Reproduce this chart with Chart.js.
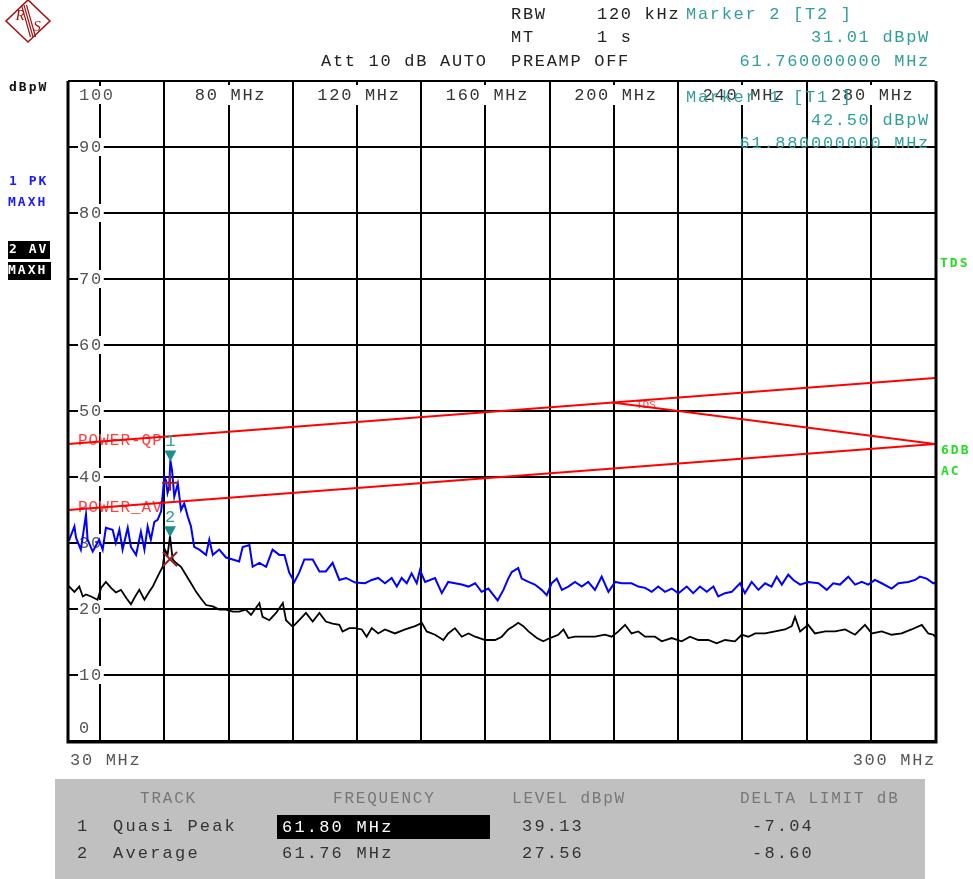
<!DOCTYPE html>
<html>
<head>
<meta charset="utf-8">
<script src="https://cdn.jsdelivr.net/npm/chart.js@4.4.1/dist/chart.umd.min.js"></script>
<style>
  html, body { margin: 0; padding: 0; background: #fff; }
  #wrap { width: 973px; height: 879px; }
</style>
</head>
<body>
<div id="wrap"><canvas id="chart" width="973" height="879"></canvas></div>
<script>
// trace 1: PK MAXH (MHz / dBpW)
const pkFreq = [30, 30.4, 32.0, 32.5, 34.0, 35.6, 36.1, 37.7, 39.7, 40.8, 41.8, 43.9, 44.9, 46.0, 47.0, 48.6, 49.6,
  51.2, 52.7, 53.8, 54.8, 55.8, 56.9, 57.9, 59.0, 60.0, 60.5, 61.0, 61.5, 61.88, 62.4, 63.1, 64.2, 65.2, 66.2,
  67.3, 68.3, 69.3, 70.9, 73.0, 74.0, 75.1, 77.1, 79.2, 81.3, 83.3, 84.4, 86.5, 87.5, 89.6, 91.7, 93.7, 95.8,
  97.4, 98.9, 100.5, 102.0, 103.6, 106.2, 108.3, 110.3, 112.4, 114.5, 116.6, 119.4, 122.5, 124.6, 126.6, 128.7,
  130.8, 132.4, 133.9, 135.5, 137.0, 138.6, 139.6, 141.2, 144.3, 146.4, 148.4, 150.5, 152.6, 154.7, 156.8, 158.8,
  160.9, 162.5, 163.8, 165.6, 167.1, 168.2, 169.2, 170.2, 171.3, 173.4, 175.4, 177.5, 179.1, 180.6, 182.2, 183.8,
  185.8, 187.9, 190.0, 192.0, 194.1, 196.2, 198.3, 200.4, 202.4, 205.5, 207.6, 209.7, 211.8, 213.8, 215.9, 218.0,
  220.1, 222.7, 224.7, 226.8, 228.9, 231.0, 232.5, 234.6, 236.7, 239.3, 240.8, 242.9, 245.0, 247.1, 249.1, 250.7,
  252.3, 254.3, 255.9, 258.0, 260.5, 263.7, 266.3, 268.3, 270.4, 273.0, 275.1, 277.2, 279.2, 281.3, 283.4, 286.5,
  288.6, 291.7, 293.8, 295.3, 297.4, 299.5, 300];
const pkLevel = [30.5, 30.5, 32.5, 30.8, 29.0, 34.3, 30.5, 28.7, 30.5, 29.0, 32.3, 32.0, 30.0, 32.0, 29.0, 32.3, 29.4,
  28.2, 31.7, 29.0, 32.5, 30.5, 33.2, 33.5, 34.8, 40.0, 39.5, 37.6, 38.5, 42.5, 41.0, 37.0, 39.0, 35.0, 36.0,
  34.0, 32.5, 29.4, 29.0, 28.2, 30.5, 28.2, 29.0, 27.8, 27.5, 27.2, 29.4, 29.7, 26.4, 27.0, 26.4, 29.0, 28.2,
  28.2, 25.5, 24.1, 25.5, 27.5, 27.5, 25.7, 25.7, 27.0, 24.4, 24.7, 24.0, 23.9, 24.4, 24.7, 23.9,
  24.7, 23.4, 24.7, 23.9, 25.4, 23.9, 25.9, 24.1, 24.7, 22.4, 24.1, 23.9, 23.7, 23.4, 23.9, 22.6,
  23.1, 22.1, 21.3, 22.9, 24.6, 25.6, 25.9, 26.2, 24.6, 24.1, 23.7, 22.9, 22.1, 23.9, 24.6, 22.9,
  23.4, 24.1, 23.4, 24.1, 22.9, 24.9, 22.6, 24.1, 23.9, 23.9, 23.4, 23.2, 22.6, 23.4, 22.6, 23.1,
  22.4, 23.4, 22.4, 23.4, 22.6, 23.4, 21.9, 22.4, 22.6, 23.9, 22.4, 24.1, 22.9, 23.9, 23.4, 24.9,
  23.7, 25.2, 24.4, 23.7, 24.1, 23.9, 22.9, 23.9, 23.7, 24.9, 23.7, 24.1, 23.7, 24.4, 23.9, 23.1,
  23.9, 24.1, 24.4, 24.9, 24.6, 23.9, 24.0];

// trace 2: AV MAXH
const avFreq = [30, 30.4, 32.0, 33.5, 34.6, 35.6, 37.2, 39.2, 40.3, 41.8, 43.4, 44.9, 46.5, 48.1, 49.6, 50.7, 52.2,
  53.8, 55.3, 56.4, 57.4, 58.4, 59.5, 60.2, 61.0, 61.76, 62.6, 63.6, 65.2, 66.7, 68.3, 69.9, 71.4, 73.0, 75.1,
  77.1, 79.2, 81.3, 83.3, 85.4, 87.0, 89.6, 90.6, 92.7, 94.8, 96.9, 97.9, 100.0, 102.0, 104.1, 106.2, 108.3,
  110.3, 112.4, 114.5, 115.5, 117.6, 119.4, 121.5, 123.0, 124.6, 126.6, 128.7, 131.8, 135.0, 138.1, 140.2, 141.7,
  144.3, 146.9, 148.4, 150.5, 152.6, 154.7, 156.8, 159.9, 163.0, 165.1, 167.1, 168.7, 170.2, 171.8, 173.4, 176.0,
  178.0, 180.1, 182.7, 184.3, 185.8, 187.9, 191.0, 194.1, 197.2, 199.3, 201.4, 203.5, 205.5, 207.6, 209.7, 212.8,
  214.9, 218.0, 221.1, 223.7, 226.3, 229.4, 232.0, 234.6, 237.7, 239.8, 241.9, 244.0, 247.1, 250.2, 253.3, 255.4,
  256.4, 258.0, 260.5, 262.6, 265.8, 268.9, 272.0, 275.1, 278.2, 280.3, 283.4, 286.5, 289.6, 292.7, 295.9, 297.9,
  299.5, 300];
const avLevel = [23.4, 23.4, 22.6, 23.4, 21.9, 22.2, 21.9, 21.4, 23.2, 24.1, 23.2, 22.5, 22.9, 21.7, 20.7, 21.7, 22.9,
  21.4, 22.6, 23.4, 24.4, 25.4, 26.4, 29.0, 28.2, 31.0, 27.5, 27.0, 26.4, 25.2, 23.9, 22.6, 21.6, 20.6, 20.4,
  19.9, 19.9, 19.6, 19.6, 19.9, 19.1, 20.9, 18.8, 18.3, 19.4, 20.9, 18.3, 17.3, 18.3, 19.4, 18.1, 19.4,
  18.1, 17.8, 17.6, 16.6, 17.1, 17.1, 16.9, 15.8, 17.1, 16.3, 16.9, 16.3, 16.9, 17.4, 17.9, 16.6,
  16.1, 15.3, 16.3, 17.1, 15.8, 16.3, 15.8, 15.3, 15.3, 15.8, 16.9, 17.4, 17.9, 17.4, 16.6, 15.6,
  15.1, 15.6, 16.1, 16.9, 15.6, 15.8, 15.8, 15.8, 16.1, 15.8, 16.6, 17.6, 16.3, 16.6, 15.8, 15.8,
  15.1, 15.6, 15.1, 15.8, 15.3, 15.3, 14.8, 15.3, 15.1, 16.1, 15.8, 16.3, 16.3, 16.6, 16.9, 17.4,
  18.8, 16.6, 17.6, 16.3, 16.6, 16.6, 16.9, 16.1, 17.6, 16.3, 16.6, 16.1, 16.3, 16.9, 17.6, 16.3,
  16.1, 15.8];

// limit lines
const qpLimitFreq = [30, 300];
const qpLimit = [45, 55];
const avLimitFreq = [30, 300];
const avLimit = [35, 45];
const tdsFreq = [199.5, 300];
const tdsLimit = [51.3, 45];

// markers: 1 on trace 1, 2 on trace 2
const markerFreq = [61.88, 61.76];
const markerLevel = [42.5, 31.01];
// final measurement points (table)
const qpFinal = { f: 61.80, level: 39.13 };
const avFinal = { f: 61.76, level: 27.56 };

// axes
const gridFreq = [40, 60, 80, 100, 120, 140, 160, 180, 200, 220, 240, 260, 280];
const topFreqLabels = [80, 120, 160, 200, 240, 280];
const levelTicks = [100, 90, 80, 70, 60, 50, 40, 30, 20, 10, 0];

const MONO = '"Liberation Mono", "Courier New", monospace';
const TEAL = '#2f9f9b';

function put(ctx, s, x, y, o = {}) {
  ctx.save();
  ctx.font = (o.weight || 'normal') + ' ' + (o.size || 17) + 'px ' + (o.family || MONO);
  ctx.letterSpacing = (o.spacing ?? 1.7) + 'px';
  ctx.textAlign = o.align || 'left';
  ctx.textBaseline = 'middle';
  if (o.bg) {
    const w = ctx.measureText(s).width;
    const x0 = o.align === 'center' ? x - w / 2 : o.align === 'right' ? x - w : x;
    ctx.fillStyle = o.bg;
    ctx.fillRect(x0 - (o.padX ?? 1), y - (o.h || 18) / 2, w + 2 * (o.padX ?? 1), o.h || 18);
  }
  ctx.fillStyle = o.color || '#222';
  ctx.fillText(s, x, y);
  ctx.restore();
}

function drawLogo(ctx) {
  ctx.save();
  ctx.translate(28, 21);
  ctx.strokeStyle = '#a31515';
  ctx.lineWidth = 1.6;
  ctx.beginPath();
  ctx.moveTo(0, -21); ctx.lineTo(22, 0); ctx.lineTo(0, 21); ctx.lineTo(-22, 0); ctx.closePath();
  ctx.stroke();
  ctx.lineWidth = 1.2;
  ctx.beginPath();
  for (const d of [-2.5, 0, 2.5]) { ctx.moveTo(-4 + d, -16); ctx.lineTo(5 + d, 16); }
  ctx.stroke();
  ctx.fillStyle = '#a31515';
  ctx.font = 'italic 15px "Liberation Serif", serif';
  ctx.textAlign = 'center';
  ctx.textBaseline = 'middle';
  ctx.fillText('R', -8, -5);
  ctx.fillText('S', 9, 6);
  ctx.restore();
}

const analyzerText = {
  id: 'analyzerText',
  beforeDatasetsDraw(chart) {
    const { ctx, scales: { x, y } } = chart;
    levelTicks.forEach(v => {
      let py = y.getPixelForValue(v);
      if (v === 100) py += 14;
      else if (v === 0) py -= 13;
      put(ctx, String(v), 79, py, { color: '#555', bg: '#fff' });
    });
    topFreqLabels.forEach(f => {
      put(ctx, f + ' MHz', x.getPixelForValue(f) + 2, 95, { align: 'center', color: '#333', bg: '#fff', h: 20 });
    });
    put(ctx, 'POWER-QP', 78, 441, { color: '#ff4040', size: 16, spacing: 1 });
    put(ctx, 'POWER_AV', 78, 508, { color: '#ff4040', size: 16, spacing: 1 });
    put(ctx, 'TDS', 636, 405, { color: '#ff4040', size: 11, spacing: 0 });
  },
  afterDatasetsDraw(chart) {
    const { ctx, scales: { x, y }, chartArea: a } = chart;
    // frame
    ctx.save();
    ctx.strokeStyle = '#000';
    ctx.lineWidth = 3;
    ctx.beginPath();
    ctx.moveTo(a.left, a.top); ctx.lineTo(a.left, a.bottom + 1);
    ctx.lineTo(a.right + 1, a.bottom + 1); ctx.lineTo(a.right + 1, a.top);
    ctx.stroke();
    ctx.lineWidth = 2;
    ctx.beginPath(); ctx.moveTo(a.left, a.top); ctx.lineTo(a.right, a.top); ctx.stroke();
    // marker triangles
    markerFreq.forEach((f, i) => {
      const px = x.getPixelForValue(f), py = y.getPixelForValue(markerLevel[i]);
      ctx.fillStyle = '#1f8f8b';
      ctx.beginPath();
      ctx.moveTo(px - 6, py - 10); ctx.lineTo(px + 6, py - 10); ctx.lineTo(px, py + 1); ctx.closePath();
      ctx.fill();
      put(ctx, String(i + 1), px, py - 19, { align: 'center', color: TEAL, size: 17, spacing: 0 });
    });
    ctx.restore();
  },
  afterDraw(chart) {
    const { ctx, scales: { x } } = chart;
    drawLogo(ctx);
    // header
    put(ctx, 'RBW', 511, 14);
    put(ctx, '120 kHz', 597, 14);
    put(ctx, 'MT', 511, 37);
    put(ctx, '1 s', 597, 37);
    put(ctx, 'Att 10 dB AUTO', 321, 61);
    put(ctx, 'PREAMP OFF', 511, 61);
    put(ctx, 'Marker 2 [T2 ]', 686, 14, { color: TEAL });
    put(ctx, '31.01 dBpW', 930, 37, { color: TEAL, align: 'right' });
    put(ctx, '61.760000000 MHz', 930, 61, { color: TEAL, align: 'right' });
    put(ctx, 'Marker 1 [T1 ]', 686, 97, { color: TEAL });
    put(ctx, '42.50 dBpW', 930, 120, { color: TEAL, align: 'right' });
    put(ctx, '61.880000000 MHz', 930, 143, { color: TEAL, align: 'right' });
    // left side
    const sb = { weight: 'bold', size: 13, spacing: 2, family: '"DejaVu Sans Mono", monospace' };
    put(ctx, 'dBpW', 9, 88, { ...sb, color: '#111' });
    put(ctx, '1 PK', 9, 182, { ...sb, color: '#1a1aff' });
    put(ctx, 'MAXH', 8, 203, { ...sb, color: '#1a1aff' });
    ctx.fillStyle = '#000';
    ctx.fillRect(8, 241, 42, 18);
    ctx.fillRect(8, 262, 43, 18);
    put(ctx, '2 AV', 9, 250, { ...sb, color: '#fff' });
    put(ctx, 'MAXH', 8, 271, { ...sb, color: '#fff' });
    // right side
    const g = { ...sb, color: '#22dd22' };
    put(ctx, 'TDS', 940, 264, g);
    put(ctx, '6DB', 941, 451, g);
    put(ctx, 'AC', 941, 472, g);
    // x axis ends
    put(ctx, '30 MHz', 70, 760, { color: '#555' });
    put(ctx, '300 MHz', x.getPixelForValue(300) + 1, 760, { color: '#555', align: 'right' });
    // marker table
    ctx.fillStyle = '#c0c0c0';
    ctx.fillRect(55, 779, 870, 100);
    const hd = { color: '#777', size: 16, spacing: 1.8 };
    put(ctx, 'TRACK', 140, 799, hd);
    put(ctx, 'FREQUENCY', 333, 799, hd);
    put(ctx, 'LEVEL dBpW', 512, 799, hd);
    put(ctx, 'DELTA LIMIT dB', 740, 799, hd);
    const rw = { color: '#333', size: 17, spacing: 2.2 };
    put(ctx, '1', 77, 826, rw);
    put(ctx, 'Quasi Peak', 113, 826, rw);
    ctx.fillStyle = '#000';
    ctx.fillRect(277, 815, 213, 24);
    put(ctx, qpFinal.f.toFixed(2) + ' MHz', 282, 827, { color: '#fff', size: 17, spacing: 2.2 });
    put(ctx, qpFinal.level.toFixed(2), 522, 826, rw);
    put(ctx, '-7.04', 752, 826, rw);
    put(ctx, '2', 77, 853, rw);
    put(ctx, 'Average', 113, 853, rw);
    put(ctx, avFinal.f.toFixed(2) + ' MHz', 282, 853, rw);
    put(ctx, avFinal.level.toFixed(2), 522, 853, rw);
    put(ctx, '-8.60', 752, 853, rw);
  }
};

const toXY = (xs, ys) => xs.map((f, i) => ({ x: f, y: ys[i] }));

new Chart(document.getElementById('chart'), {
  type: 'scatter',
  data: {
    datasets: [
      { label: 'QP final', data: [{ x: qpFinal.f, y: qpFinal.level }], pointStyle: 'cross', pointRadius: 8,
        borderColor: '#9a2020', borderWidth: 2, order: 0 },
      { label: 'AV final', data: [{ x: avFinal.f, y: avFinal.level }], pointStyle: 'crossRot', pointRadius: 10,
        borderColor: '#9a2020', borderWidth: 2, order: 0 },
      { label: 'POWER-QP', data: toXY(qpLimitFreq, qpLimit), showLine: true, borderColor: '#ff0000', borderWidth: 2,
        pointRadius: 0, order: 1 },
      { label: 'POWER_AV', data: toXY(avLimitFreq, avLimit), showLine: true, borderColor: '#ff0000', borderWidth: 2,
        pointRadius: 0, order: 1 },
      { label: 'TDS', data: toXY(tdsFreq, tdsLimit), showLine: true, borderColor: '#ff0000', borderWidth: 2,
        pointRadius: 0, order: 1 },
      { label: '1 PK MAXH', data: toXY(pkFreq, pkLevel), showLine: true, borderColor: '#0000ff', borderWidth: 2,
        pointRadius: 0, order: 2 },
      { label: '2 AV MAXH', data: toXY(avFreq, avLevel), showLine: true, borderColor: '#000000', borderWidth: 1.8,
        pointRadius: 0, order: 3 },
    ],
  },
  options: {
    responsive: false,
    animation: false,
    devicePixelRatio: 1,
    layout: { padding: { left: 68, top: 81, right: 38, bottom: 138 } },
    plugins: { legend: { display: false }, tooltip: { enabled: false } },
    scales: {
      x: {
        type: 'linear', min: 30, max: 300,
        afterBuildTicks: (s) => { s.ticks = gridFreq.map(v => ({ value: v })); },
        ticks: { display: false },
        grid: { color: '#000', lineWidth: 2, drawTicks: false },
        border: { display: false },
      },
      y: {
        min: 0, max: 100,
        ticks: { display: false, stepSize: 10 },
        grid: { color: '#000', lineWidth: 2, drawTicks: false },
        border: { display: false },
      },
    },
  },
  plugins: [analyzerText],
});
</script>
</body>
</html>
